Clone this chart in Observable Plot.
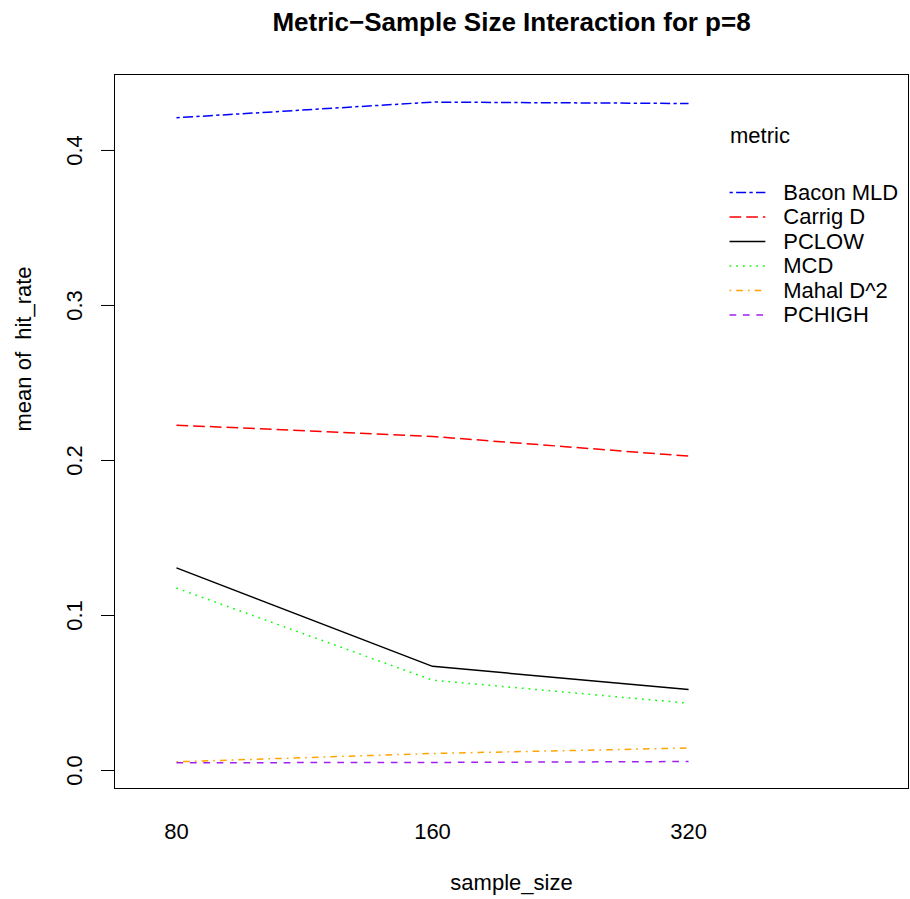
<!DOCTYPE html>
<html>
<head>
<meta charset="utf-8">
<script src="https://cdn.jsdelivr.net/npm/d3@7"></script>
<script src="https://cdn.jsdelivr.net/npm/@observablehq/plot@0.6"></script>
<style>
  html, body { margin: 0; padding: 0; background: #fff; }
  svg text { white-space: pre; }
</style>
</head>
<body>
<div id="chart"></div>
<script>
// ---- data ----
const sampleSizes = ["80", "160", "320"];
const metrics = ["Bacon MLD", "Carrig D", "PCLOW", "MCD", "Mahal D^2", "PCHIGH"];
const baconMLD = [0.4211, 0.4312, 0.4303];
const carrigD  = [0.2228, 0.2155, 0.2028];
const pclow    = [0.1307, 0.0672, 0.0523];
const mcd      = [0.1177, 0.0583, 0.0434];
const mahalD2  = [0.0056, 0.0110, 0.0145];
const pchigh   = [0.0050, 0.0052, 0.0058];
const yTicks = [0, 0.1, 0.2, 0.3, 0.4];
const title = "Metric\u2212Sample Size Interaction for p=8";
const xLabel = "sample_size";
const yLabel = "mean of  hit_rate";
const legendTitle = "metric";

// ---- styles ----
const colors = ["#0000FF", "#FF0000", "#000000", "#00FF00", "#FFA500", "#A020F0"];
const dashes = ["3.3,3.3,10,3.3", "11.7,5", null, "1.7,5", "1.7,5,6.7,5", "6.7,6.7"];
const seriesValues = [baconMLD, carrigD, pclow, mcd, mahalD2, pchigh];

const rows = [];
metrics.forEach((m, k) => seriesValues[k].forEach((v, i) => rows.push({metric: m, idx: i + 1, value: v})));

// legend layout (in user coordinates, as R's legend does)
const legX1 = 3.16, legX2 = 3.30, legTextX = 3.37, legTop = 0.3728, legStep = 0.0158, legTitleY = 0.4092;
const legendRows = metrics.map((m, k) => ({metric: m, k, y: legTop - k * legStep}));

const font = "Liberation Sans, Arial, Helvetica, sans-serif";
const fs = 22;

const marks = [
  Plot.frame({stroke: "#000", strokeWidth: 1}),
  Plot.axisY(yTicks, {tickSize: 13, tickFormat: () => "", label: null, stroke: "#000"}),
  Plot.text(yTicks, {y: d => d, text: d => d.toFixed(1), frameAnchor: "left", dx: -40, rotate: -90,
    textAnchor: "middle", lineAnchor: "middle", fontSize: fs, fill: "#000"}),
  Plot.text([1, 2, 3], {x: d => d, text: (d, i) => sampleSizes[i], frameAnchor: "bottom", dy: 43,
    lineAnchor: "middle", fontSize: fs, fill: "#000"}),
  Plot.text([xLabel], {text: d => d, frameAnchor: "bottom", dy: 94, lineAnchor: "middle", fontSize: fs, fill: "#000"}),
  Plot.text([yLabel], {text: d => d, frameAnchor: "left", dx: -91, rotate: -90, lineAnchor: "middle", fontSize: fs, fill: "#000"}),
  Plot.text([title], {text: d => d, frameAnchor: "top", dy: -52, lineAnchor: "middle", fontSize: 26, fontWeight: "bold", fill: "#000"}),
];

metrics.forEach((m, k) => {
  marks.push(Plot.line(rows.filter(r => r.metric === m), {
    x: "idx", y: "value", stroke: colors[k], strokeWidth: 1.5,
    strokeDasharray: dashes[k] || undefined, strokeLinecap: "butt"
  }));
  const lr = legendRows[k];
  marks.push(Plot.link([lr], {
    x1: () => legX1, x2: () => legX2, y1: d => d.y, y2: d => d.y,
    stroke: colors[k], strokeWidth: 1.5, strokeDasharray: dashes[k] || undefined, strokeLinecap: "butt"
  }));
});
marks.push(Plot.text(legendRows, {x: () => legTextX, y: "y", text: "metric", textAnchor: "start",
  lineAnchor: "middle", fontSize: fs, fill: "#000"}));
marks.push(Plot.text([legendTitle], {x: () => 3.162, y: () => legTitleY, text: d => d, textAnchor: "start",
  lineAnchor: "middle", fontSize: fs, fill: "#000"}));

const chart = Plot.plot({
  width: 910,
  height: 899,
  marginLeft: 114,
  marginRight: 2,
  marginTop: 74,
  marginBottom: 111,
  style: {fontFamily: font, background: "#fff", color: "#000"},
  x: {type: "linear", domain: [0.758, 3.859], axis: null},
  y: {type: "linear", domain: [-0.0116, 0.449], axis: null},
  marks
});
document.getElementById("chart").appendChild(chart);
</script>
</body>
</html>
